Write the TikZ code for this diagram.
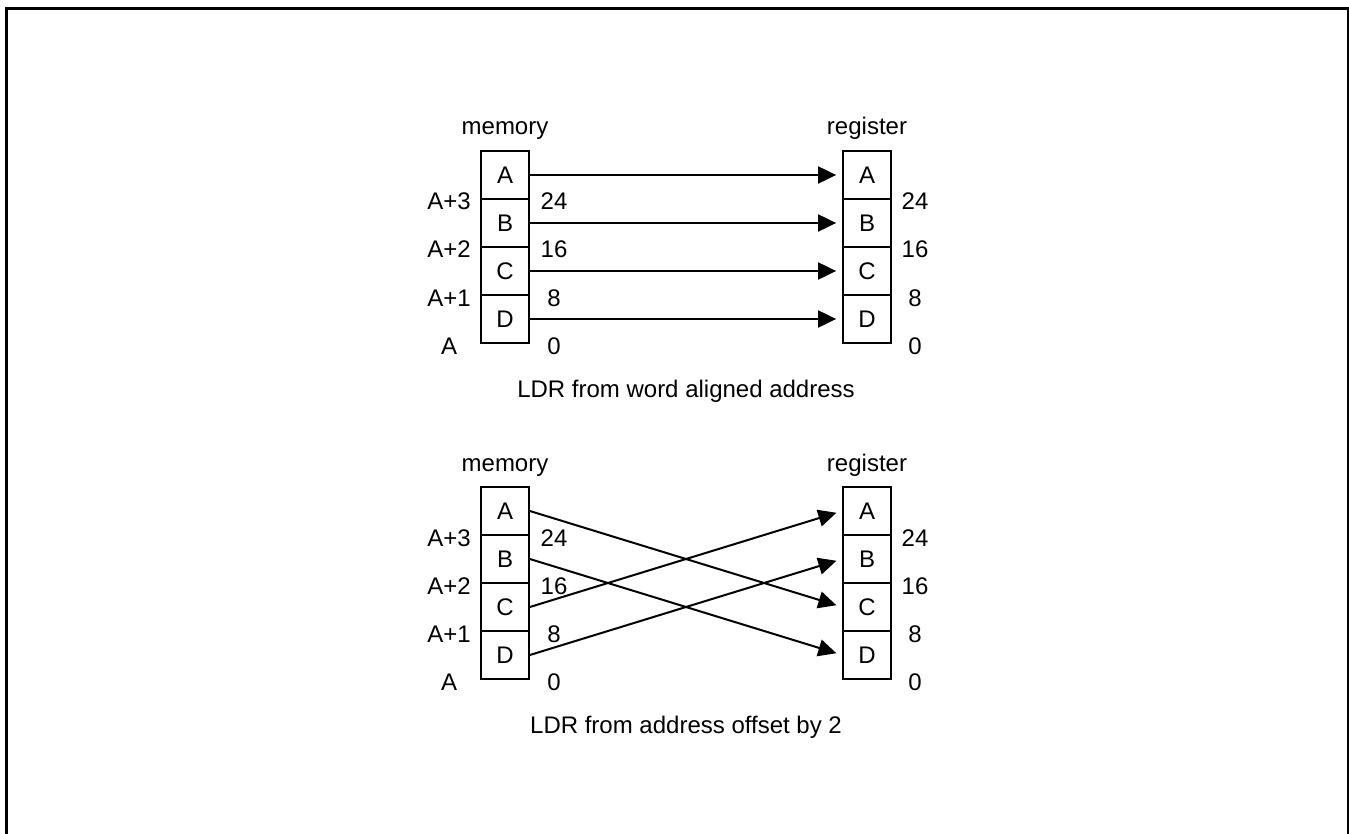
\documentclass[tikz,border=0pt]{standalone}
\usepackage{fontspec}
\setmainfont{Liberation Sans}
\usetikzlibrary{arrows.meta}
\begin{document}
\begin{tikzpicture}[x=1pt,y=-1pt,
  cell/.style={draw, line width=1.8pt, minimum width=48pt, minimum height=48pt, inner sep=0pt, font=\fontsize{24}{28}\selectfont},
  lab/.style={inner sep=0pt, anchor=base, font=\fontsize{24}{28}\selectfont},
  conn/.style={line width=2pt, -{Triangle[length=18pt,width=17pt]}, shorten >=6pt}]
\useasboundingbox (0,0) rectangle (1349,834);
\fill[white] (0,0) rectangle (1349,834);
\draw[line width=3pt] (6.5,836) -- (6.5,8.3) -- (1348.5,8.3) -- (1348.5,836);
\foreach \off/\s/\cap in {0/1/{LDR from word aligned address}, 336/2/{LDR from address offset by 2}} {
  \node[lab] (mt\s) at (505,135+\off) {memory};
  \node[lab] (rt\s) at (867,135+\off) {register};
  \foreach \L [count=\i from 0] in {A,B,C,D} {
    \node[cell] (m\s\L) at (505,175+48*\i+\off) {\L};
    \node[cell] (r\s\L) at (867,175+48*\i+\off) {\L};
  }
  \foreach \a/\n [count=\i from 0] in {A+3/24,A+2/16,A+1/8,A/0} {
    \node[lab] (al\s\i) at (449,210+48*\i+\off) {\a};
    \node[lab] (bm\s\i) at (554,210+48*\i+\off) {\n};
    \node[lab] (br\s\i) at (915,210+48*\i+\off) {\n};
  }
  \node[lab] (cap\s) at (686,397+\off) {\cap};
}
\foreach \L in {A,B,C,D} {
  \draw[conn] (m1\L.east) -- (r1\L.west);
}
\draw[conn] (m2A.east) -- (r2C.west);
\draw[conn] (m2B.east) -- (r2D.west);
\draw[conn] (m2C.east) -- (r2A.west);
\draw[conn] (m2D.east) -- (r2B.west);
\end{tikzpicture}
\end{document}
